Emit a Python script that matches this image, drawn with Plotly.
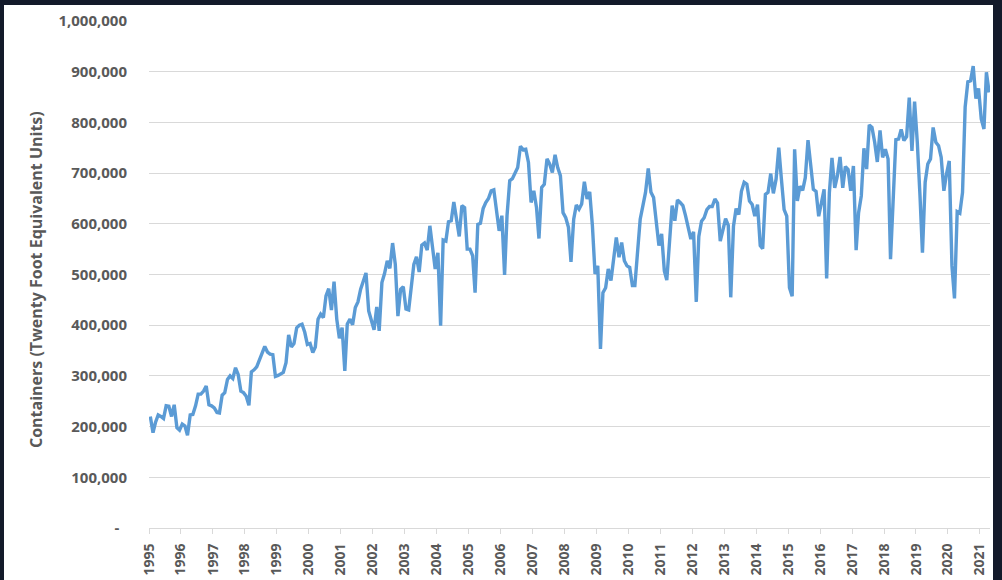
import pandas as pd
import plotly.graph_objects as go

# Monthly container volumes (thousand TEU)
teu_1995_2001 = [
    220, 188, 208, 223, 220, 216, 241, 240, 220, 243, 198, 193,
    205, 201, 183, 223, 224, 241, 264, 264, 270, 280, 243, 241,
    237, 228, 227, 262, 267, 293, 300, 295, 316, 303, 270, 267,
    260, 242, 308, 312, 318, 333, 347, 358, 347, 343, 342, 299,
    301, 305, 307, 326, 381, 357, 364, 395, 400, 402, 386, 362,
    364, 346, 357, 412, 422, 415, 458, 472, 430, 486, 412, 374,
    395, 310, 402, 412, 401, 435, 446, 471, 487, 503, 428, 412,
]
teu_2002_2008 = [
    391, 436, 389, 484, 502, 527, 512, 562, 520, 418, 471, 476,
    432, 430, 471, 520, 535, 505, 558, 562, 548, 596, 553, 511,
    543, 399, 568, 566, 604, 606, 643, 611, 575, 636, 632, 550,
    550, 537, 464, 599, 601, 630, 642, 650, 665, 667, 629, 586,
    616, 499, 616, 685, 689, 700, 711, 753, 746, 747, 721, 642,
    665, 632, 571, 672, 678, 728, 718, 701, 736, 711, 695, 622,
    612, 593, 525, 609, 637, 629, 639, 683, 649, 663, 596, 501,
]
teu_2009_2015 = [
    517, 353, 464, 474, 511, 488, 534, 573, 534, 563, 527, 517,
    514, 478, 478, 543, 609, 636, 662, 709, 662, 652, 609, 557,
    580, 507, 489, 576, 636, 606, 647, 642, 636, 616, 593, 570,
    584, 446, 575, 605, 612, 628, 634, 634, 649, 641, 566, 589,
    610, 597, 455, 595, 630, 618, 664, 682, 678, 645, 638, 615,
    638, 557, 551, 658, 662, 699, 660, 688, 750, 688, 628, 615,
    474, 457, 747, 645, 674, 666, 691, 765, 720, 668, 664, 615,
]
teu_2016_2021 = [
    641, 668, 492, 661, 730, 671, 694, 732, 671, 713, 707, 665,
    714, 548, 622, 655, 749, 708, 795, 790, 761, 722, 784, 731,
    747, 728, 530, 662, 766, 767, 786, 764, 772, 849, 744, 841,
    761, 655, 543, 682, 718, 728, 790, 761, 754, 731, 665, 698,
    724, 517, 453, 624, 621, 662, 830, 880, 882, 911, 847, 867,
    807, 787, 899, 859,
]

year_labels = [str(y) for y in range(1995, 2022)]
y_tick_values = list(range(0, 1_000_001, 100_000))
y_tick_labels = ["-\u00a0\u00a0"] + [f"{v:,}" for v in y_tick_values[1:]]

values = [v * 1000 for v in teu_1995_2001 + teu_2002_2008 + teu_2009_2015 + teu_2016_2021]
dates = pd.date_range("1995-01-01", periods=len(values), freq="MS") + pd.Timedelta(days=15)

W, H = 1002, 580
ML, MR, MT, MB = 149, 12, 21, 52
PW, PH = W - ML - MR, H - MT - MB

def px(xp):
    return (xp - ML) / PW

def py(yp):
    return (H - MB - yp) / PH

grey = "#595959"
fig = go.Figure()
fig.add_trace(go.Scatter(
    x=dates, y=values, mode="lines",
    line=dict(color="#5B9BD5", width=3.4),
    hoverinfo="skip", showlegend=False,
))

dark = "#131a2a"
shapes = [
    dict(type="rect", xref="paper", yref="paper", x0=px(0), x1=px(W), y0=py(5), y1=py(0),
         fillcolor=dark, line=dict(width=0), layer="above"),
    dict(type="rect", xref="paper", yref="paper", x0=px(0), x1=px(4), y0=py(H), y1=py(0),
         fillcolor=dark, line=dict(width=0), layer="above"),
    dict(type="rect", xref="paper", yref="paper", x0=px(993), x1=px(W), y0=py(H), y1=py(0),
         fillcolor=dark, line=dict(width=0), layer="above"),
]

fig.update_layout(
    width=W, height=H,
    margin=dict(l=ML, r=MR, t=MT, b=MB, autoexpand=False),
    paper_bgcolor="white", plot_bgcolor="white",
    shapes=shapes,
    annotations=[dict(
        text="Containers (Twenty Foot Equivalent Units)",
        xref="paper", yref="paper", x=px(36), y=py(280),
        textangle=-90, showarrow=False, xanchor="center", yanchor="middle",
        font=dict(family="Open Sans", size=16, color=grey, weight="bold"),
    )],
    xaxis=dict(
        type="date",
        range=["1995-01-01", "2021-04-26"],
        tickvals=[f"{y}-01-01" for y in year_labels],
        ticktext=year_labels,
        tickangle=-90,
        tickfont=dict(family="Open Sans", size=14, color=grey, weight="bold"),
        showgrid=False, zeroline=False,
        showline=True, linecolor="#D9D9D9", linewidth=1,
        ticks="outside", ticklen=5, tickcolor="#D9D9D9",
        ticklabelstandoff=4,
        automargin=False,
    ),
    yaxis=dict(
        range=[0, 1_000_000],
        tickvals=y_tick_values, ticktext=y_tick_labels,
        tickfont=dict(family="Open Sans", size=15, color=grey, weight="bold"),
        showgrid=True, gridcolor="#D9D9D9", gridwidth=1,
        zeroline=False, showline=False, ticks="",
        ticklabelstandoff=21,
        automargin=False,
    ),
)

fig.write_html(
    "out.html",
    config={"displayModeBar": False, "staticPlot": True},
    post_script="document.body.style.margin='0px';document.body.style.overflow='hidden';",
)
